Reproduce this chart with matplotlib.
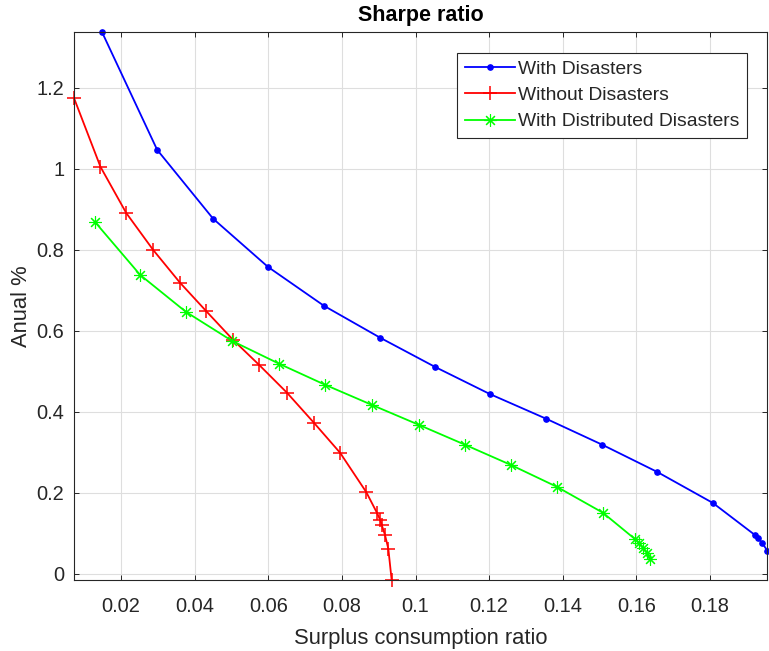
import matplotlib
matplotlib.use("Agg")
import matplotlib.pyplot as plt
from matplotlib.ticker import FuncFormatter

# surplus consumption ratio (x) and annual Sharpe ratio (y)
surplus_dis = [0.0148, 0.0298, 0.0450, 0.0599, 0.0751, 0.0904, 0.1053, 0.1202,
               0.1355, 0.1507, 0.1656, 0.1808, 0.1922, 0.1930, 0.1941, 0.1956]
sharpe_dis = [1.338, 1.047, 0.877, 0.758, 0.662, 0.583, 0.511, 0.444,
              0.383, 0.319, 0.252, 0.175, 0.096, 0.089, 0.077, 0.057]

surplus_nodis = [0.0072, 0.0144, 0.0214, 0.0287, 0.0360, 0.0431, 0.0504, 0.0575,
                 0.0651, 0.0724, 0.0795, 0.0866, 0.0895, 0.0904, 0.0908, 0.0917,
                 0.0926, 0.0935]
sharpe_nodis = [1.175, 1.005, 0.891, 0.800, 0.719, 0.649, 0.578, 0.516,
                0.447, 0.373, 0.299, 0.202, 0.151, 0.133, 0.121, 0.096,
                0.062, -0.015]

surplus_distr = [0.0129, 0.0252, 0.0376, 0.0502, 0.0629, 0.0754, 0.0882, 0.1009,
                 0.1134, 0.1259, 0.1384, 0.1509, 0.1596, 0.1607, 0.1618, 0.1629,
                 0.1637]
sharpe_distr = [0.869, 0.738, 0.647, 0.575, 0.519, 0.467, 0.417, 0.368,
                0.319, 0.269, 0.215, 0.151, 0.086, 0.077, 0.064, 0.052,
                0.037]

labels = ['With Disasters', 'Without Disasters', 'With Distributed Disasters']
xticks = [0.02, 0.04, 0.06, 0.08, 0.1, 0.12, 0.14, 0.16, 0.18]
yticks = [0, 0.2, 0.4, 0.6, 0.8, 1.0, 1.2]

plt.rcParams['font.family'] = ['Liberation Sans', 'DejaVu Sans']
txt = '#262626'

fig = plt.figure(figsize=(7.69, 6.51), dpi=100)
ax = fig.add_axes([0.0962, 0.1091, 0.9018, 0.8418])

ax.plot(surplus_dis, sharpe_dis, color='#0000ff', lw=1.3, marker='o', ms=3.8,
        label=labels[0], clip_on=False)
ax.plot(surplus_nodis, sharpe_nodis, color='#ff0000', lw=1.3, marker='+', ms=10,
        mew=1.1, label=labels[1], clip_on=False)
ax.plot(surplus_distr, sharpe_distr, color='#00ff00', lw=1.3, marker=(8, 2, 0), ms=9,
        mew=0.8, label=labels[2], clip_on=False)

# tight limits like MATLAB's axis tight
ax.set_xlim(min(surplus_nodis), max(surplus_dis))
ax.set_ylim(min(sharpe_nodis), max(sharpe_dis))

ax.set_xticks(xticks)
ax.set_yticks(yticks)
ax.xaxis.set_major_formatter(FuncFormatter(lambda v, p: '%g' % v))
ax.yaxis.set_major_formatter(FuncFormatter(lambda v, p: '%g' % v))

ax.grid(True, color='#dedede', lw=0.8)
ax.set_axisbelow(True)
ax.tick_params(direction='in', top=True, right=True, length=3.6, width=0.7,
               labelsize=14.4, labelcolor=txt, color=txt)
ax.tick_params(axis='x', pad=12)
ax.tick_params(axis='y', pad=7)
for s in ax.spines.values():
    s.set_color(txt)
    s.set_linewidth(0.8)

ax.set_title('Sharpe ratio', fontsize=15.5, fontweight='bold', color='black', pad=8)
ax.set_xlabel('Surplus consumption ratio', fontsize=15.8, color=txt, labelpad=9)
ax.set_ylabel('Anual %', fontsize=15.8, color=txt, labelpad=3)

leg = ax.legend(loc='upper right', bbox_to_anchor=(0.971, 0.962), fontsize=13.9,
                numpoints=1, fancybox=False, framealpha=1, borderpad=0.4,
                labelspacing=0.45, handlelength=2.6, handletextpad=0.15,
                borderaxespad=0)
leg.get_frame().set_edgecolor(txt)
leg.get_frame().set_linewidth(0.8)
for t in leg.get_texts():
    t.set_color(txt)

fig.savefig('out.png', dpi=100)
